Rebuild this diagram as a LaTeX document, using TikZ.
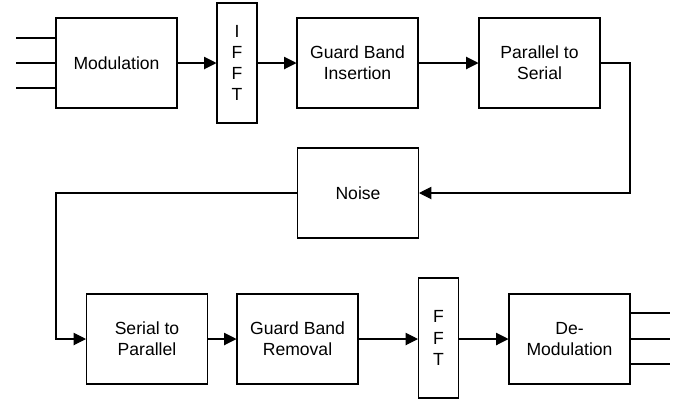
\documentclass[tikz,border=0pt]{standalone}
\usepackage{fontspec}
\setmainfont{Liberation Sans}
\usetikzlibrary{arrows.meta,positioning}

\begin{document}
\begin{tikzpicture}[x=0.02cm,y=-0.02cm,
		font=\fontsize{10}{12}\selectfont,
		block/.style={draw,line width=0.6pt,minimum width=2.42cm,minimum height=1.8cm,align=center,inner sep=1pt},
		slim/.style={draw,line width=0.6pt,minimum width=0.8cm,minimum height=2.4cm,align=center,inner sep=1pt},
		link/.style={line width=0.6pt},
		flow/.style={link,-{Triangle[length=7pt,width=7pt]}}]
		\useasboundingbox (0,0) rectangle (682,400);
		% transmitter chain
		\node[block] (mod)   at (116.5,63) {Modulation};
		\node[slim]  (ifft)  at (237,63)   {I\\F\\F\\T};
		\node[block] (gbi)   at (357.5,63) {Guard Band\\Insertion};
		\node[block] (p2s)   at (539.5,63) {Parallel to\\Serial};
		% channel
		\node[block] (noise) at (358,193)  {Noise};
		% receiver chain
		\node[block] (s2p)   at (147,339)  {Serial to\\Parallel};
		\node[block] (gbr)   at (297.5,339) {Guard Band\\Removal};
		\node[slim]  (fft)   at (438.5,338) {F\\F\\T};
		\node[block] (demod) at (569.5,339) {De-\\Modulation};
		% inputs and outputs
		\foreach \i/\yy in {1/38,2/63,3/88}{
			\coordinate (in\i) at (16,\yy);
			\draw[link] (in\i) -- (in\i -| mod.west);
		}
		\foreach \i/\yy in {1/313,2/339,3/364}{
			\coordinate (out\i) at (670,\yy);
			\draw[link] (out\i -| demod.east) -- (out\i);
		}
		\draw[flow] (mod.east)  -- (ifft.west);
		\draw[flow] (ifft.east) -- (gbi.west);
		\draw[flow] (gbi.east)  -- (p2s.west);
		\coordinate (turnr) at (630,63);
		\draw[flow] (p2s.east) -- (turnr) |- (noise.east);
		\coordinate (turnl) at (56,193);
		\draw[flow] (noise.west) -- (turnl) |- (s2p.west);
		\draw[flow] (s2p.east)  -- (gbr.west);
		\draw[flow] (gbr.east)  -- (gbr.east -| fft.west);
		\draw[flow] (fft.east |- demod.west) -- (demod.west);
	\end{tikzpicture}
\end{document}
